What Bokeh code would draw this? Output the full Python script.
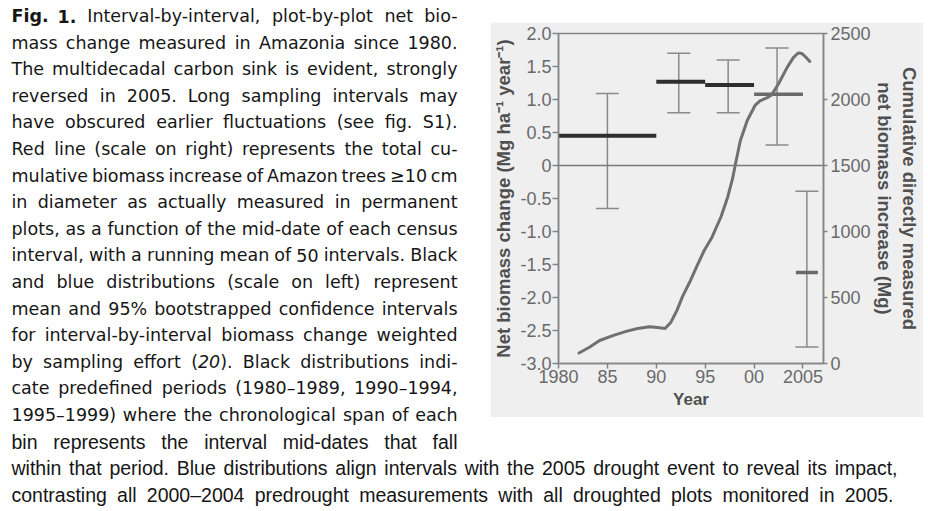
import re
from bokeh.plotting import figure
from bokeh.models import Range1d, LinearAxis, FixedTicker, Span, Whisker, ColumnDataSource, TeeHead, Spacer
from bokeh.layouts import row, column
from bokeh.core.properties import value
from bokeh.embed import file_html
from bokeh.resources import INLINE

# ---------------- data ----------------
year_ticks = [1980, 1985, 1990, 1995, 2000, 2005]
year_labels = ["1980", "85", "90", "95", "00", "2005"]
left_ticks = [-3.0, -2.5, -2.0, -1.5, -1.0, -0.5, 0.0, 0.5, 1.0, 1.5, 2.0]
left_labels = ["-3.0", "-2.5", "-2.0", "-1.5", "-1.0", "-0.5", "0", "0.5", "1.0", "1.5", "2.0"]
right_ticks = [0, 500, 1000, 1500, 2000, 2500]
right_labels = ["0", "500", "1000", "1500", "2000", "2500"]

# predefined periods (black)
period_start = [1980, 1990, 1995]
period_end = [1990, 1995, 2000]
period_mean = [0.45, 1.27, 1.22]
period_ci_x = [1985.0, 1992.3, 1997.35]
period_ci_low = [-0.65, 0.80, 0.80]
period_ci_high = [1.09, 1.70, 1.60]

# drought-aligned (blue in original, grey in scan)
pre_start = [2000]
pre_end = [2005]
pre_mean = [1.08]
pre_ci_x = [2002.35]
pre_ci_low = [0.31]
pre_ci_high = [1.78]

drought_x = [2005.4]
drought_mean = [-1.62]
drought_ci_low = [-2.75]
drought_ci_high = [-0.39]

# cumulative biomass increase (right axis)
cum_year = [1982.1, 1983.2, 1984.2, 1985.7, 1987.0, 1988.1, 1989.3, 1990.1, 1990.9, 1991.5,
            1992.1, 1992.7, 1993.5, 1994.2, 1994.9, 1995.7, 1996.6, 1997.3, 1997.8, 1998.1,
            1998.6, 1999.3, 2000.1, 2000.6, 2001.3, 2001.8, 2002.5, 2003.4, 2004.0, 2004.5,
            2004.9, 2005.3, 2005.7]
cum_val = [80, 125, 174, 215, 245, 265, 278, 272, 265, 313,
           401, 510, 629, 745, 856, 957, 1108, 1260, 1400, 1513,
           1689, 1841, 1955, 1990, 2012, 2035, 2119, 2245, 2315, 2352,
           2348, 2320, 2288]

caption_left = [
    "**Fig.** **1.** Interval-by-interval, plot-by-plot net bio-",
    "mass change measured in Amazonia since 1980.",
    "The multidecadal carbon sink is evident, strongly",
    "reversed in 2005. Long sampling intervals may",
    "have obscured earlier fluctuations (see fig. S1).",
    "Red line (scale on right) represents the total cu-",
    "mulative biomass increase of Amazon trees \u226510 cm",
    "in diameter as actually measured in permanent",
    "plots, as a function of the mid-date of each census",
    "interval, with a running mean of 50 intervals. Black",
    "and blue distributions (scale on left) represent",
    "mean and 95% bootstrapped confidence intervals",
    "for interval-by-interval biomass change weighted",
    "by sampling effort (_20_). Black distributions indi-",
    "cate predefined periods (1980\u20131989, 1990\u20131994,",
    "1995\u20131999) where the chronological span of each",
]
caption_narrow = [
    "bin represents the interval mid-dates that fall",
]
caption_bottom = [
    "within that period. Blue distributions align intervals with the 2005 drought event to reveal its impact,",
    "contrasting all 2000\u20132004 predrought measurements with all droughted plots monitored in 2005.",
]

# ---------------- font metrics (per 1000 em) ----------------
def build(groups):
    d = {}
    for chars, w in groups:
        for c in chars:
            d[c] = w
    return d

DEJAVU = build([(" ,.", 318), ("ijl", 278), ("-", 361), ("()", 390), (":;/", 337), ("f", 352),
                ("t", 392), ("r", 411), ("s", 521), ("z", 525), ("c", 550), ("k", 579),
                ("vxy", 592), ("o", 612), ("a", 613), ("e", 615), ("hnu", 634), ("bdgpq", 635),
                ("0123456789", 636), ("w", 818), ("m", 974), ("%", 950), ("\u2013", 500),
                ("\u2265", 838), ("AV", 684), ("B", 686), ("C", 698), ("D", 770), ("E", 632),
                ("F", 575), ("G", 775), ("H", 752), ("IJ", 295), ("K", 656), ("L", 557),
                ("M", 863), ("N", 748), ("OQ", 787), ("P", 603), ("R", 695), ("S", 635),
                ("TY", 611), ("U", 732), ("W", 989), ("XZ", 685)])
LIBER = build([(" ,.:;ftI/!", 278), ("ijl", 222), ("-()r", 333), ("cksvxyzJ", 500),
               ("abdeghnopqu0123456789\u2013L", 556), ("wCDHNRU", 722), ("mM", 833),
               ("%", 889), ("\u2265", 549), ("ABEKPSVXY", 667), ("FTZ", 611), ("GOQ", 778),
               ("W", 944)])

TEXT_COLOR = "#161616"


def parse_word(word):
    segs = []
    for part in re.split(r"(\*\*.*?\*\*|_.*?_)", word):
        if not part:
            continue
        if part.startswith("**"):
            segs.append((part[2:-2], "bold"))
        elif part.startswith("_") and len(part) > 2:
            segs.append((part[1:-1], "italic"))
        else:
            segs.append((part, "normal"))
    return segs


def seg_w(text, style, table, size):
    w = sum(table.get(c, 600) for c in text) / 1000.0 * size
    return w * (1.1 if style == "bold" else 1.0)


def fit_size(line, table, width, space_em=0.278):
    words = [parse_word(w) for w in line.split(" ")]
    total = sum(seg_w(t, s, table, 1.0) for wd in words for t, s in wd)
    return width / (total + space_em * (len(words) - 1))


def layout_lines(lines, font, table, size, left, right, y0, dy, groups):
    for k, line in enumerate(lines):
        y = y0 + k * dy
        words = [parse_word(w) for w in line.split(" ")]
        widths = [sum(seg_w(t, s, table, size) for t, s in wd) for wd in words]
        sz = size
        total = sum(widths)
        n = len(words)
        min_gap = 0.2 * sz
        if total + min_gap * (n - 1) > right - left:
            scale = (right - left) / (total + min_gap * (n - 1))
            sz = size * scale
            widths = [w * scale for w in widths]
            total = sum(widths)
        gap = (right - left - total) / max(n - 1, 1)
        x = left
        for i, wd in enumerate(words):
            if i == n - 1 and len(wd) == 1:
                key = (font, wd[0][1], "right", sz)
                groups.setdefault(key, ([], [], []))
                groups[key][0].append(right)
                groups[key][1].append(y)
                groups[key][2].append(wd[0][0])
            else:
                xs = x
                for t, s in wd:
                    key = (font, s, "left", sz)
                    groups.setdefault(key, ([], [], []))
                    groups[key][0].append(xs)
                    groups[key][1].append(y)
                    groups[key][2].append(t)
                    xs += seg_w(t, s, table, sz)
            x += widths[i] + gap


def text_fig(w, h):
    f = figure(width=w, height=h, x_range=Range1d(0, w), y_range=Range1d(h, 0),
               output_backend="svg", toolbar_location=None, min_border=0,
               background_fill_color="white", border_fill_color="white",
               outline_line_color=None)
    f.axis.visible = False
    f.grid.visible = False
    return f


def draw_groups(f, groups):
    for (font, style, align, sz), (xs, ys, ts) in groups.items():
        f.text(x=xs, y=ys, text=ts, text_font=value(font), text_font_style=style,
               text_font_size=value("%.2fpx" % sz), text_align=align,
               text_baseline="middle", text_color=TEXT_COLOR)


# ---------------- caption figures ----------------
LEFT_X, COL_R = 11, 457
LINE_Y0, LINE_DY = 15.5, 26.6

A_W, A_H = 490, 458
cap_a = text_fig(A_W, A_H)
ga = {}
layout_lines(caption_left, "DejaVu Sans", DEJAVU, 17.5, LEFT_X, COL_R, LINE_Y0, LINE_DY, ga)

C_W, C_H = 920, 52
C_TOP = A_H
bot_size = min(19.5, fit_size(caption_bottom[0], LIBER, 897 - LEFT_X))
layout_lines(caption_narrow, "Liberation Sans", LIBER, bot_size, LEFT_X, COL_R,
             LINE_Y0 + 16 * LINE_DY, LINE_DY, ga)
draw_groups(cap_a, ga)

cap_c = text_fig(C_W, C_H)
gc = {}
layout_lines(caption_bottom[:1], "Liberation Sans", LIBER, bot_size, LEFT_X, 897,
             LINE_Y0 + 17 * LINE_DY - C_TOP, LINE_DY, gc)
layout_lines(caption_bottom[1:], "Liberation Sans", LIBER, bot_size, LEFT_X, 893,
             LINE_Y0 + 18 * LINE_DY - C_TOP, LINE_DY, gc)
draw_groups(cap_c, gc)

# ---------------- chart ----------------
PANEL = "#efefef"
AXIS_C = "#858585"
TICK_C = "#6a6a6a"
LABEL_C = "#505050"
FONT = "Liberation Sans"

B_LEFT, B_RIGHT, B_TOP, B_BOTTOM = 68, 100, 11, 54
FRAME_W, FRAME_H = 265, 330
p = figure(width=B_LEFT + FRAME_W + B_RIGHT, height=B_TOP + FRAME_H + B_BOTTOM,
           x_range=Range1d(1980, 2007.1), y_range=Range1d(-3, 2),
           output_backend="svg", toolbar_location=None,
           min_border_left=B_LEFT, min_border_right=B_RIGHT,
           min_border_top=B_TOP, min_border_bottom=B_BOTTOM,
           background_fill_color=PANEL, border_fill_color=PANEL)
p.grid.visible = False
p.outline_line_color = AXIS_C
p.outline_line_width = 1.5

p.extra_y_ranges = {"cum": Range1d(0, 2500)}
raxis = LinearAxis(y_range_name="cum", ticker=FixedTicker(ticks=right_ticks))
p.add_layout(raxis, "right")

xa = p.xaxis[0]
xa.ticker = FixedTicker(ticks=year_ticks)
xa.major_label_overrides = dict(zip(year_ticks, year_labels))
xa.axis_label = "Year"
xa.major_tick_out = 5
xa.major_label_standoff = 1
xa.axis_label_standoff = 4

la = p.yaxis[0]
la.ticker = FixedTicker(ticks=left_ticks)
la.major_label_overrides = dict(zip(left_ticks, left_labels))
la.axis_label = "Net biomass change (Mg ha\u207b\u00b9 year\u207b\u00b9)"
la.major_tick_out = 6
la.major_label_standoff = 1
la.axis_label_standoff = 3

raxis.major_label_overrides = dict(zip(right_ticks, right_labels))
raxis.axis_label = "Cumulative directly measured\nnet biomass increase (Mg)"
raxis.major_tick_out = 4
raxis.major_label_standoff = 3
raxis.axis_label_standoff = 0

for ax in (xa, la, raxis):
    ax.major_tick_in = 0
    ax.minor_tick_in = 0
    ax.minor_tick_out = 0
    ax.axis_line_color = AXIS_C
    ax.axis_line_width = 1.5
    ax.major_tick_line_color = AXIS_C
    ax.major_tick_line_width = 1.5
    ax.major_label_text_font = FONT
    ax.major_label_text_font_size = "18px"
    ax.major_label_text_color = TICK_C
    ax.axis_label_text_font = FONT
    ax.axis_label_text_font_style = "bold"
    ax.axis_label_text_color = LABEL_C
la.axis_label_text_font_size = "18.5px"
raxis.axis_label_text_font_size = "18.5px"
xa.axis_label_text_font_size = "17px"

p.add_layout(Span(location=0, dimension="width", line_color="#7a7a7a", line_width=1.5))

WHISK_C = "#8a8a8a"
ci_src = ColumnDataSource(dict(x=period_ci_x + pre_ci_x + drought_x,
                               lo=period_ci_low + pre_ci_low + drought_ci_low,
                               hi=period_ci_high + pre_ci_high + drought_ci_high))
p.add_layout(Whisker(source=ci_src, base="x", lower="lo", upper="hi", dimension="height",
                     line_color=WHISK_C, line_width=1.5,
                     upper_head=TeeHead(size=23, line_color=WHISK_C, line_width=1.5),
                     lower_head=TeeHead(size=23, line_color=WHISK_C, line_width=1.5)))

p.segment(x0=period_start, y0=period_mean, x1=period_end, y1=period_mean,
          line_width=4, line_color="#2e2e2e")
p.segment(x0=pre_start, y0=pre_mean, x1=pre_end, y1=pre_mean,
          line_width=3.5, line_color="#6a6a6a")
p.scatter(x=drought_x, y=drought_mean, marker="dash", size=22, line_width=3.5,
          line_color="#6a6a6a")

p.line(x=cum_year, y=cum_val, y_range_name="cum", line_width=3, line_color="#707070",
       line_join="round", line_cap="round")

page = column(row(cap_a, column(Spacer(width=p.width, height=22), p)), cap_c)
open("out.html", "w").write(file_html(page, INLINE))
